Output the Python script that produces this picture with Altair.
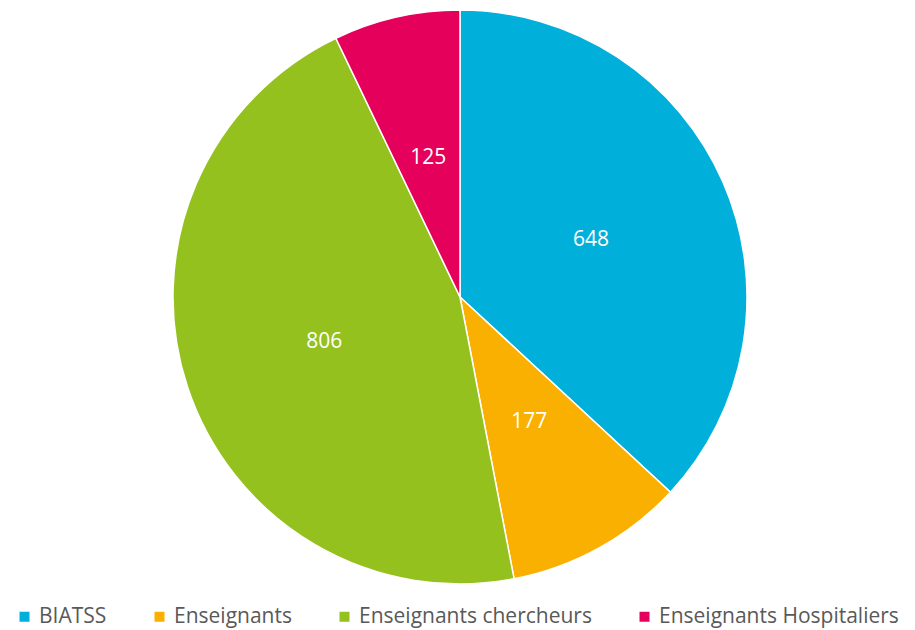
import altair as alt
import pandas as pd

categories = ["BIATSS", "Enseignants", "Enseignants chercheurs", "Enseignants Hospitaliers"]
values = [648, 177, 806, 125]
colors = ["#00B0DA", "#FAB000", "#95C11F", "#E5005B"]

df = pd.DataFrame({"cat": categories, "val": values, "ord": list(range(len(categories)))})

FONT = "Open Sans"
CX, CY, R = 452, 289, 287

base = alt.Chart(df).encode(
    theta=alt.Theta("val:Q", stack=True),
    order=alt.Order("ord:Q", sort="ascending"),
)

pie = base.mark_arc(stroke="white", strokeWidth=1.5, x=CX, y=CY, outerRadius=R).encode(
    color=alt.Color(
        "cat:N",
        scale=alt.Scale(domain=categories, range=colors),
        sort=categories,
        legend=alt.Legend(
            title=None,
            orient="none",
            direction="horizontal",
            legendX=6,
            legendY=598,
            symbolType="square",
            symbolSize=100,
            symbolStrokeWidth=0,
            labelFont=FONT,
            labelFontSize=21,
            labelColor="#595959",
            labelOffset=4,
            columnPadding=42,
            labelLimit=400,
        ),
    )
)

labels = base.mark_text(
    radius=143, x=CX, y=CY, color="white", font=FONT, fontSize=21
).encode(text=alt.Text("val:Q"))

chart = (
    (pie + labels)
    .properties(width=899, height=622, autosize=alt.AutoSizeParams(type="none"), padding=0)
    .configure_view(stroke=None)
)

chart.save("out.html", embed_options={"renderer": "svg", "actions": False})
